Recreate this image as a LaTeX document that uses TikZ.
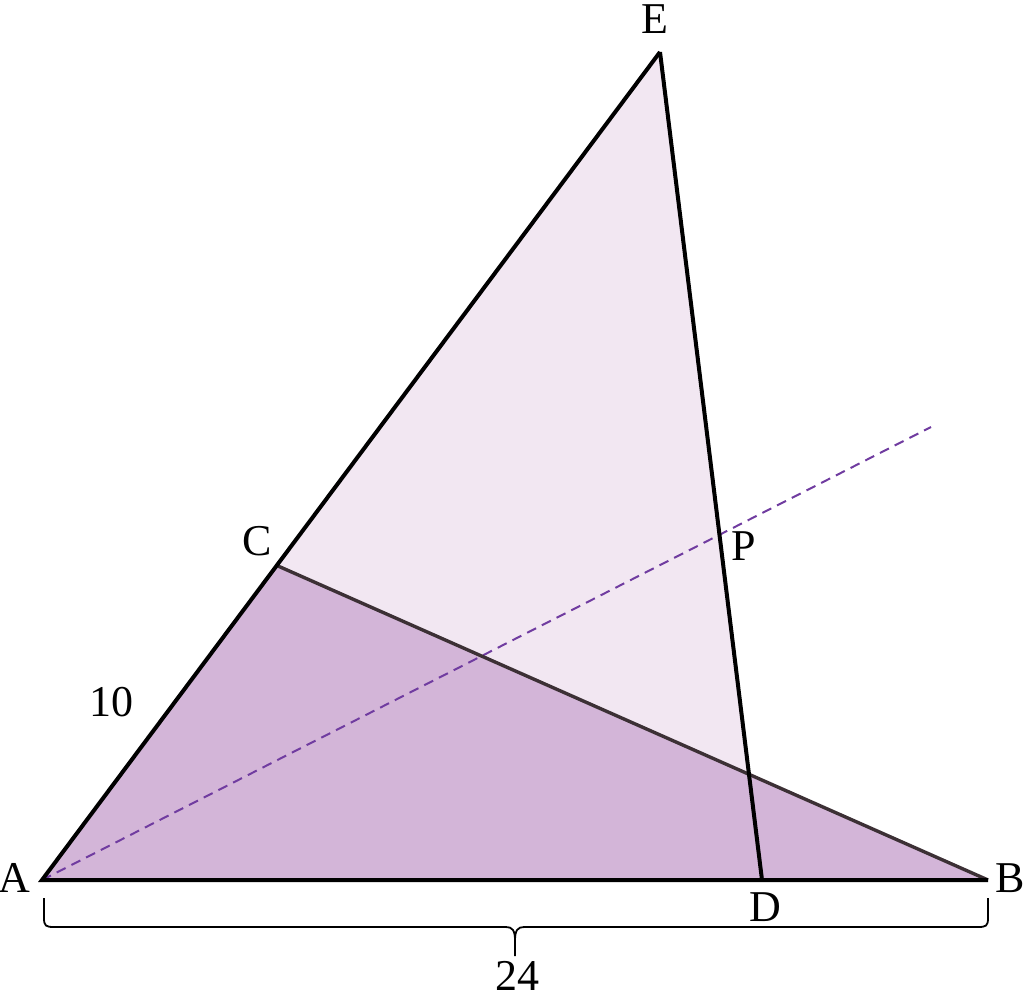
\documentclass[tikz,border=0pt]{standalone}
\usepackage{fontspec}
\setmainfont{Liberation Serif}
\definecolor{darkfill}{RGB}{211,181,216}
\definecolor{lightfill}{RGB}{242,231,242}
\definecolor{dashcol}{RGB}{112,60,160}
\definecolor{cbline}{RGB}{60,48,53}
\tikzset{
  edge/.style={line width=4pt, line join=miter},
  lbl/.style={font=\fontsize{44}{48}\selectfont, inner sep=0pt},
}
\begin{document}
\begin{tikzpicture}[x=1pt,y=-1pt]
\useasboundingbox (0,0) rectangle (1024,998);
\coordinate (A) at (42,880);
\coordinate (B) at (988,880);
\coordinate (C) at (278,566);
\coordinate (E) at (660,52);
\coordinate (D) at (762,880);
\coordinate (Q) at (931,427);
\fill[lightfill] (A) -- (E) -- (D) -- cycle;
\fill[darkfill] (A) -- (B) -- (C) -- cycle;
\draw[dashcol, line width=2pt, dash pattern=on 10pt off 6.5pt] (A) -- (Q);
\draw[cbline, line width=3.4pt] (C) -- (B);
\draw[edge] (E) -- (D);
\draw[edge] (B) -- (A) -- (E);
% brace
\draw[line width=1.8pt] (44,898) -- (44,918) .. controls (44,926) and (46,927) .. (54,927)
  -- (506,927) .. controls (512,927) and (515,930) .. (515,940) -- (515,956);
\draw[line width=1.8pt] (988,898) -- (988,918) .. controls (988,926) and (986,927) .. (978,927)
  -- (524,927) .. controls (518,927) and (515,930) .. (515,940);
\node[lbl] (la) at (14,878) {A};
\node[lbl] (lb) at (1010,878) {B};
\node[lbl] (lc) at (257,541) {C};
\node[lbl] (ld) at (765,907) {D};
\node[lbl] (le) at (655,19) {E};
\node[lbl] (lp) at (744,546) {P};
\node[lbl] (l10) at (111,702) {10};
\node[lbl] (l24) at (517,976) {24};
\end{tikzpicture}
\end{document}
